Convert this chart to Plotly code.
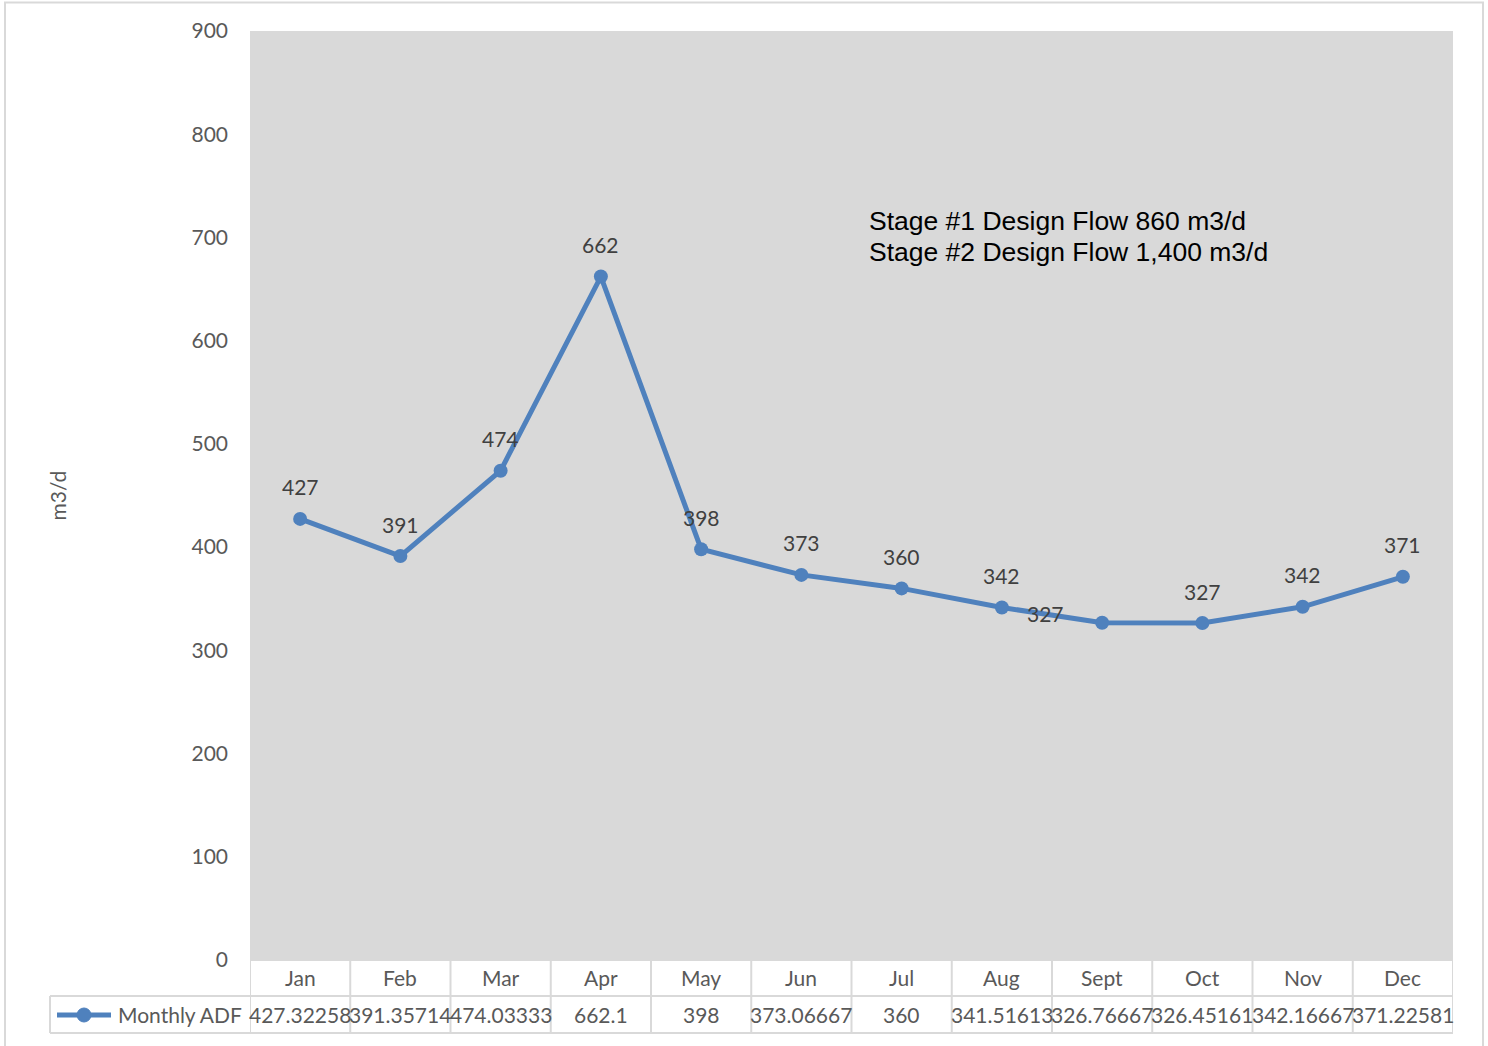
import plotly.graph_objects as go

months = ["Jan", "Feb", "Mar", "Apr", "May", "Jun", "Jul", "Aug", "Sept", "Oct", "Nov", "Dec"]
adf = [427.32258, 391.35714, 474.03333, 662.1, 398, 373.06667, 360, 341.51613, 326.76667, 326.45161, 342.16667, 371.22581]
adf_text = ["427.32258", "391.35714", "474.03333", "662.1", "398", "373.06667", "360", "341.51613", "326.76667", "326.45161", "342.16667", "371.22581"]
data_labels = ["427", "391", "474", "662", "398", "373", "360", "342", "327", "327", "342", "371"]
series_name = "Monthly ADF"
y_ticks = [0, 100, 200, 300, 400, 500, 600, 700, 800, 900]
note_lines = ["Stage #1 Design Flow 860 m3/d", "Stage #2 Design Flow 1,400 m3/d"]

W, H = 1488, 1046
L, R, T, B = 250, 1453, 31, 960  # page coordinates of plot area
PW, PH = R - L, B - T

def px(x):
    return (x - L) / PW

def py(y):
    return (B - y) / PH

BLUE = "#4F81BD"
GRID = "#D9D9D9"
FONT = "Lato"
FS = 21

fig = go.Figure()
fig.add_trace(go.Scatter(
    x=list(range(len(months))), y=adf, mode="lines+markers",
    line=dict(color=BLUE, width=5), marker=dict(color=BLUE, size=14),
    name=series_name, showlegend=False, cliponaxis=False, hoverinfo="skip",
))

annotations = []
for i, (v, lab) in enumerate(zip(adf, data_labels)):
    xs, ys = 0, 32
    if months[i] == "Sept":
        xs, ys = -57, 9
    annotations.append(dict(x=i, y=v, xref="x", yref="y", text=lab, showarrow=False,
                            xanchor="center", yanchor="middle",
                            xshift=xs, yshift=ys, font=dict(family=FONT, size=FS, color="#404040")))
for i, (m, t) in enumerate(zip(months, adf_text)):
    annotations.append(dict(x=i, y=py(977), xref="x", yref="paper", text=m, showarrow=False,
                            xanchor="center", yanchor="middle",
                            font=dict(family=FONT, size=FS, color="#595959")))
    annotations.append(dict(x=i, y=py(1014), xref="x", yref="paper", text=t, showarrow=False,
                            xanchor="center", yanchor="middle",
                            font=dict(family=FONT, size=FS, color="#595959")))
annotations.append(dict(x=px(244), y=py(1014), xref="paper", yref="paper", text=series_name,
                        showarrow=False, xanchor="right", yanchor="middle",
                        font=dict(family=FONT, size=FS, color="#595959")))
annotations.append(dict(x=px(57), y=0.5, xref="paper", yref="paper", text="m3/d", textangle=-90,
                        showarrow=False, xanchor="center", yanchor="middle",
                        font=dict(family=FONT, size=FS, color="#595959")))
for k, line in enumerate(note_lines):
    annotations.append(dict(x=px(867), y=py(221 + 31 * k), xref="paper", yref="paper", xanchor="left",
                            yanchor="middle", text=line, showarrow=False,
                            font=dict(family="Liberation Sans", size=26.5, color="#000000")))

shapes = []
shapes.append(dict(type="rect", xref="paper", yref="paper", x0=px(5), x1=px(1483), y0=py(1060), y1=py(2.5),
                   line=dict(color=GRID, width=2), layer="below"))
for yy, x0 in [(960, 250), (996, 50), (1033, 50)]:
    shapes.append(dict(type="line", xref="paper", yref="paper", x0=px(x0), x1=1, y0=py(yy), y1=py(yy),
                       line=dict(color=GRID, width=2)))
for i in range(len(months) + 1):
    shapes.append(dict(type="line", xref="x", yref="paper", x0=i - 0.5, x1=i - 0.5, y0=py(960), y1=py(1033),
                       line=dict(color=GRID, width=2)))
shapes.append(dict(type="line", xref="paper", yref="paper", x0=px(50), x1=px(50), y0=py(996), y1=py(1033),
                   line=dict(color=GRID, width=2)))
shapes.append(dict(type="line", xref="paper", yref="paper", x0=px(57), x1=px(111), y0=py(1015), y1=py(1015),
                   line=dict(color=BLUE, width=5)))
shapes.append(dict(type="circle", xref="paper", yref="paper", x0=px(77), x1=px(91), y0=py(1022), y1=py(1008),
                   fillcolor=BLUE, line=dict(color=BLUE, width=1)))

fig.update_layout(
    width=W, height=H,
    margin=dict(l=L, r=W - R, t=T, b=H - B),
    paper_bgcolor="white", plot_bgcolor="#D9D9D9",
    showlegend=False, hovermode=False,
    xaxis=dict(range=[-0.5, len(months) - 0.5], showticklabels=False, showgrid=False, zeroline=False,
               showline=False, fixedrange=True),
    yaxis=dict(range=[0, 900], tickvals=y_ticks, showgrid=False, zeroline=False, showline=False,
               fixedrange=True,
               tickfont=dict(family=FONT, size=FS, color="#595959"), ticklabelstandoff=21),
    annotations=annotations, shapes=shapes,
)

fig.write_html("out.html", config={"displayModeBar": False},
               post_script="document.body.style.margin='0';")
